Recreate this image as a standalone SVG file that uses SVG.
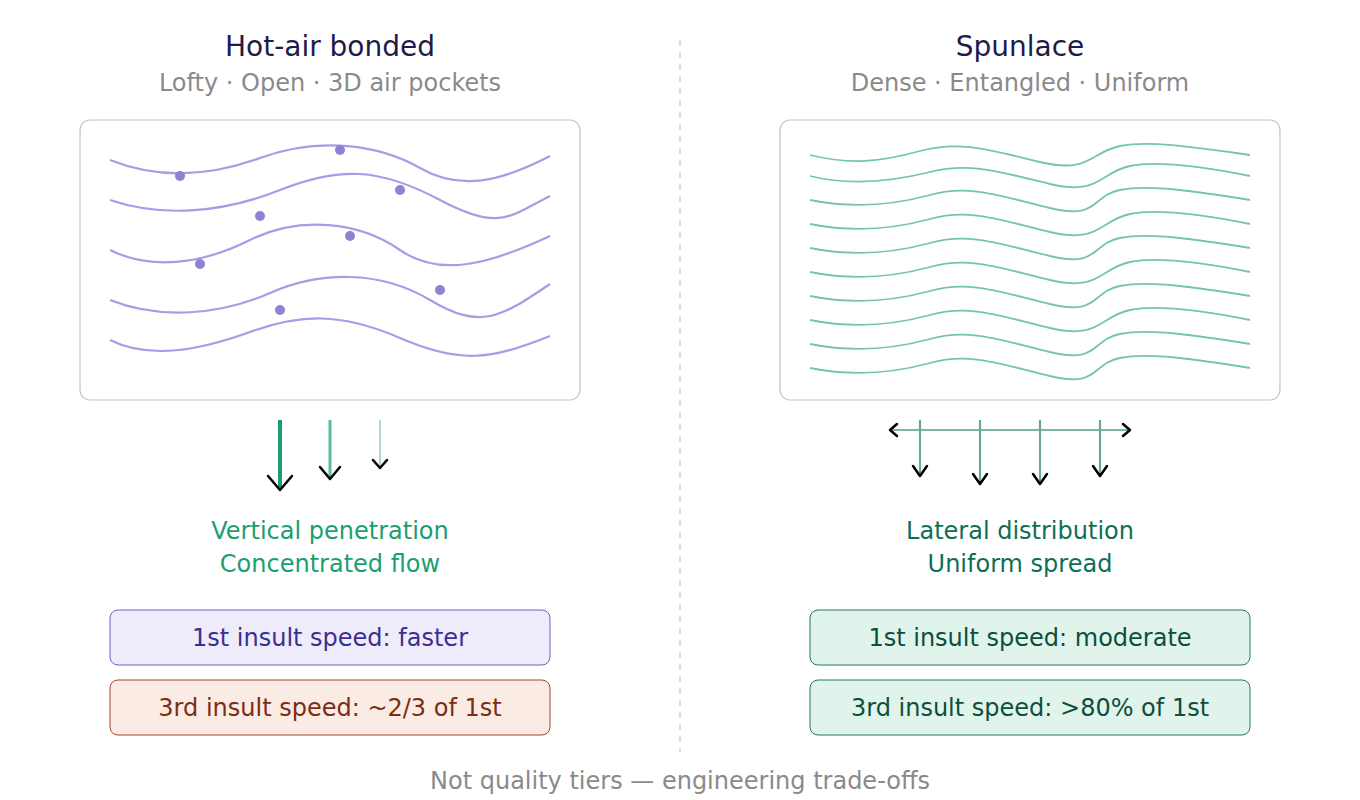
<svg xmlns="http://www.w3.org/2000/svg" width="1360" height="800" viewBox="0 0 1360 800">
<style>
text{font-family:"DejaVu Sans","Noto Sans",sans-serif;text-anchor:middle}
.t{font-size:28px;fill:#1e1b4b}
.s{font-size:24px;fill:#8a8a8a}
.panel{fill:#fff;stroke:#c4c4c0;stroke-width:1.2}
.pw{fill:none;stroke:#a99be6;stroke-width:2.2}
.gw{fill:none;stroke:#74c6aa;stroke-width:1.8}
.dot{fill:#8f82d2}
.head{fill:none;stroke:#000;stroke-width:2.5;stroke-linecap:round;stroke-linejoin:round}
.lbl{font-size:24px}
.bx{font-size:24px}
</style>
<line x1="680" y1="40" x2="680" y2="752" stroke="#cfcfcf" stroke-width="1.5" stroke-dasharray="6 6"/>
<g id="title-left"><text class="t" x="330" y="56">Hot-air bonded</text><text class="s" x="330" y="91">Lofty · Open · 3D air pockets</text></g>
<g id="title-right"><text class="t" x="1020" y="56">Spunlace</text><text class="s" x="1020" y="91">Dense · Entangled · Uniform</text></g>
<g id="panel-left">
<rect class="panel" x="80" y="120" width="500" height="280" rx="10"/>
<path class="pw" d="M110 160 C150 176,200 180,260 158 S380 145,420 168 S500 182,550 156"/>
<path class="pw" d="M110 200 C160 217,220 214,280 190 S380 168,440 200 S510 216,550 196"/>
<path class="pw" d="M110 250 C150 270,200 265,250 240 S360 222,400 250 S490 264,550 236"/>
<path class="pw" d="M110 300 C160 320,220 315,270 293 S380 270,430 300 S500 318,550 284"/>
<path class="pw" d="M110 340 C150 360,200 350,250 332 S340 312,400 338 S490 360,550 336"/>
<circle class="dot" cx="180" cy="176" r="5"/><circle class="dot" cx="340" cy="150" r="5"/>
<circle class="dot" cx="400" cy="190" r="5"/><circle class="dot" cx="260" cy="216" r="5"/>
<circle class="dot" cx="350" cy="236" r="5"/><circle class="dot" cx="200" cy="264" r="5"/>
<circle class="dot" cx="440" cy="290" r="5"/><circle class="dot" cx="280" cy="310" r="5"/>
</g>
<g id="panel-right">
<rect class="panel" x="780" y="120" width="500" height="280" rx="10"/>
<g id="gw">
<path class="gw" d="M810 155 C850 165,880 162,920 151 S990 150,1040 162 S1090 152,1120 146 S1200 148,1250 155"/>
<path class="gw" d="M810 176 C850 186,890 182,930 172 S1000 172,1050 184 S1100 172,1130 166 S1210 168,1250 176"/>
<path class="gw" d="M810 200 C850 208,890 206,930 195 S1000 196,1050 208 S1090 196,1120 190 S1200 192,1250 200"/>
<path class="gw" d="M810 224 C850 232,890 230,930 219 S1000 220,1050 232 S1100 220,1130 214 S1210 216,1250 224"/>
<path class="gw" d="M810 248 C850 256,890 254,930 243 S1000 244,1050 256 S1090 244,1120 238 S1200 240,1250 248"/>
<path class="gw" d="M810 272 C850 280,890 278,930 267 S1000 268,1050 280 S1100 268,1130 262 S1210 264,1250 272"/>
<path class="gw" d="M810 296 C850 304,890 302,930 291 S1000 292,1050 304 S1090 292,1120 286 S1200 288,1250 296"/>
<path class="gw" d="M810 320 C850 328,890 326,930 315 S1000 316,1050 328 S1100 316,1130 310 S1210 312,1250 320"/>
<path class="gw" d="M810 344 C850 352,890 350,930 339 S1000 340,1050 352 S1090 340,1120 334 S1200 336,1250 344"/>
<path class="gw" d="M810 368 C850 376,890 374,930 363 S1000 364,1050 376 S1090 364,1120 358 S1200 360,1250 368"/>
</g>
</g>
<g id="connectors">
<line x1="280" y1="420" x2="280" y2="489" stroke="#1a9e72" stroke-width="4"/>
<polyline class="head" points="268,476 280,490 292,476" stroke-width="3.5"/>
<line x1="330" y1="420" x2="330" y2="478" stroke="#5bbd9a" stroke-width="3"/>
<polyline class="head" points="320,467 330,479 340,467"/>
<line x1="380" y1="420" x2="380" y2="468" stroke="#a9ddc9" stroke-width="2"/>
<polyline class="head" points="373,460 380,468 387,460" stroke-width="2"/>
<line x1="890" y1="430" x2="1130" y2="430" stroke="#7fb5a2" stroke-width="2"/>
<polyline class="head" points="897,424 890,430 897,436" stroke-width="2"/>
<polyline class="head" points="1123,424 1130,430 1123,436" stroke-width="2"/>
<g stroke="#6aa891" stroke-width="2.2">
<line x1="920" y1="420" x2="920" y2="475"/><line x1="980" y1="420" x2="980" y2="483"/>
<line x1="1040" y1="420" x2="1040" y2="483"/><line x1="1100" y1="420" x2="1100" y2="475"/>
</g>
<polyline class="head" points="913,466 920,476 927,466" stroke-width="2"/>
<polyline class="head" points="973,474 980,484 987,474" stroke-width="2"/>
<polyline class="head" points="1033,474 1040,484 1047,474" stroke-width="2"/>
<polyline class="head" points="1093,466 1100,476 1107,466" stroke-width="2"/>
</g>
<g id="label-left"><text class="lbl" x="330" y="539" fill="#1a9e72">Vertical penetration</text><text class="lbl" x="330" y="572" fill="#1a9e72">Concentrated flow</text></g>
<g id="label-right"><text class="lbl" x="1020" y="539" fill="#0f6e56">Lateral distribution</text><text class="lbl" x="1020" y="572" fill="#0f6e56">Uniform spread</text></g>
<g id="box-l1"><rect x="110" y="610" width="440" height="55" rx="8" fill="#eeecfb" stroke="#6c5fc7"/><text class="bx" x="330" y="646" fill="#3c2f8f">1st insult speed: faster</text></g>
<g id="box-l2"><rect x="110" y="680" width="440" height="55" rx="8" fill="#faebe5" stroke="#a4452a"/><text class="bx" x="330" y="716" fill="#7a2e12">3rd insult speed: ~2/3 of 1st</text></g>
<g id="box-r1"><rect x="810" y="610" width="440" height="55" rx="8" fill="#e1f4ec" stroke="#1f7a5c"/><text class="bx" x="1030" y="646" fill="#0b4f3c">1st insult speed: moderate</text></g>
<g id="box-r2"><rect x="810" y="680" width="440" height="55" rx="8" fill="#e1f4ec" stroke="#1f7a5c"/><text class="bx" x="1030" y="716" fill="#0b4f3c">3rd insult speed: &gt;80% of 1st</text></g>
<text class="s" x="680" y="789">Not quality tiers — engineering trade-offs</text>
</svg>
